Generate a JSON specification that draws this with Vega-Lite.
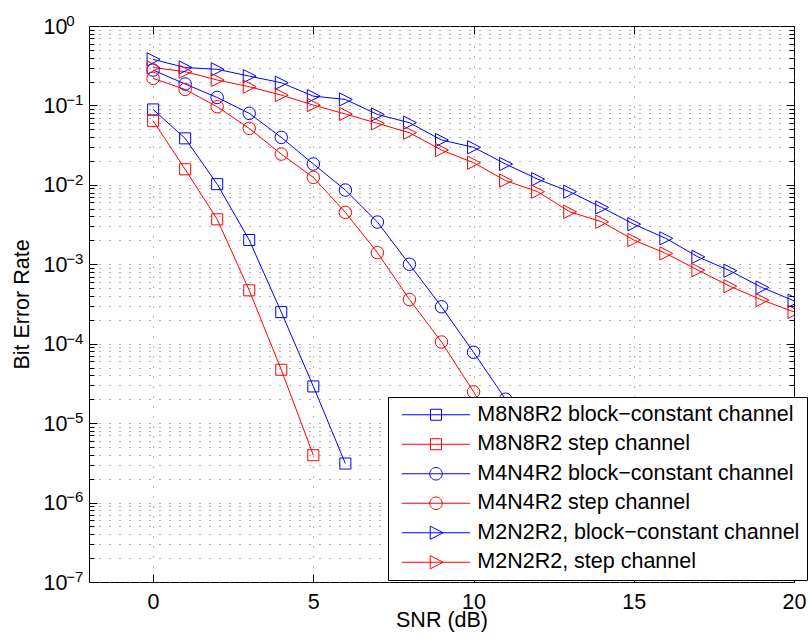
{
  "$schema": "https://vega.github.io/schema/vega-lite/v6.json",
  "width": 705,
  "height": 556,
  "autosize": {"type": "none"},
  "padding": {"left": 89, "top": 26, "right": 15, "bottom": 57},
  "background": "white",
  "config": {
    "font": "Liberation Sans",
    "view": {"stroke": "black", "strokeWidth": 1},
    "axis": {
      "labelFont": "Liberation Sans",
      "titleFont": "Liberation Sans",
      "labelColor": "black",
      "titleColor": "black",
      "tickColor": "black",
      "domain": false,
      "titleFontWeight": "normal",
      "labelOverlap": false,
      "labelFlush": false,
      "labelBound": false
    }
  },
  "data": {
    "values": [
      {"series": "M8N8R2 block−constant channel", "snr": 0, "ber": 0.089},
      {"series": "M8N8R2 block−constant channel", "snr": 1, "ber": 0.0385},
      {"series": "M8N8R2 block−constant channel", "snr": 2, "ber": 0.0102},
      {"series": "M8N8R2 block−constant channel", "snr": 3, "ber": 0.00202},
      {"series": "M8N8R2 block−constant channel", "snr": 4, "ber": 0.00025},
      {"series": "M8N8R2 block−constant channel", "snr": 5, "ber": 2.9e-5},
      {"series": "M8N8R2 block−constant channel", "snr": 6, "ber": 3.1e-6},
      {"series": "M8N8R2 step channel", "snr": 0, "ber": 0.064},
      {"series": "M8N8R2 step channel", "snr": 1, "ber": 0.0157},
      {"series": "M8N8R2 step channel", "snr": 2, "ber": 0.00368},
      {"series": "M8N8R2 step channel", "snr": 3, "ber": 0.00047},
      {"series": "M8N8R2 step channel", "snr": 4, "ber": 4.7e-5},
      {"series": "M8N8R2 step channel", "snr": 5, "ber": 3.95e-6},
      {"series": "M4N4R2 block−constant channel", "snr": 0, "ber": 0.279},
      {"series": "M4N4R2 block−constant channel", "snr": 1, "ber": 0.186},
      {"series": "M4N4R2 block−constant channel", "snr": 2, "ber": 0.126},
      {"series": "M4N4R2 block−constant channel", "snr": 3, "ber": 0.0795},
      {"series": "M4N4R2 block−constant channel", "snr": 4, "ber": 0.0396},
      {"series": "M4N4R2 block−constant channel", "snr": 5, "ber": 0.0183},
      {"series": "M4N4R2 block−constant channel", "snr": 6, "ber": 0.0086},
      {"series": "M4N4R2 block−constant channel", "snr": 7, "ber": 0.0034},
      {"series": "M4N4R2 block−constant channel", "snr": 8, "ber": 0.001},
      {"series": "M4N4R2 block−constant channel", "snr": 9, "ber": 0.000292},
      {"series": "M4N4R2 block−constant channel", "snr": 10, "ber": 7.8e-5},
      {"series": "M4N4R2 block−constant channel", "snr": 11, "ber": 2.0e-5},
      {"series": "M4N4R2 block−constant channel", "snr": 12, "ber": 4.8e-6},
      {"series": "M4N4R2 step channel", "snr": 0, "ber": 0.219},
      {"series": "M4N4R2 step channel", "snr": 1, "ber": 0.159},
      {"series": "M4N4R2 step channel", "snr": 2, "ber": 0.0964},
      {"series": "M4N4R2 step channel", "snr": 3, "ber": 0.0514},
      {"series": "M4N4R2 step channel", "snr": 4, "ber": 0.0244},
      {"series": "M4N4R2 step channel", "snr": 5, "ber": 0.0124},
      {"series": "M4N4R2 step channel", "snr": 6, "ber": 0.0045},
      {"series": "M4N4R2 step channel", "snr": 7, "ber": 0.0014},
      {"series": "M4N4R2 step channel", "snr": 8, "ber": 0.00036},
      {"series": "M4N4R2 step channel", "snr": 9, "ber": 0.000105},
      {"series": "M4N4R2 step channel", "snr": 10, "ber": 2.48e-5},
      {"series": "M4N4R2 step channel", "snr": 11, "ber": 5.5e-6},
      {"series": "M2N2R2, block−constant channel", "snr": 0, "ber": 0.38},
      {"series": "M2N2R2, block−constant channel", "snr": 1, "ber": 0.30},
      {"series": "M2N2R2, block−constant channel", "snr": 2, "ber": 0.285},
      {"series": "M2N2R2, block−constant channel", "snr": 3, "ber": 0.234},
      {"series": "M2N2R2, block−constant channel", "snr": 4, "ber": 0.193},
      {"series": "M2N2R2, block−constant channel", "snr": 5, "ber": 0.131},
      {"series": "M2N2R2, block−constant channel", "snr": 6, "ber": 0.119},
      {"series": "M2N2R2, block−constant channel", "snr": 7, "ber": 0.077},
      {"series": "M2N2R2, block−constant channel", "snr": 8, "ber": 0.0606},
      {"series": "M2N2R2, block−constant channel", "snr": 9, "ber": 0.0367},
      {"series": "M2N2R2, block−constant channel", "snr": 10, "ber": 0.0297},
      {"series": "M2N2R2, block−constant channel", "snr": 11, "ber": 0.0183},
      {"series": "M2N2R2, block−constant channel", "snr": 12, "ber": 0.0118},
      {"series": "M2N2R2, block−constant channel", "snr": 13, "ber": 0.0082},
      {"series": "M2N2R2, block−constant channel", "snr": 14, "ber": 0.0052},
      {"series": "M2N2R2, block−constant channel", "snr": 15, "ber": 0.0032},
      {"series": "M2N2R2, block−constant channel", "snr": 16, "ber": 0.00212},
      {"series": "M2N2R2, block−constant channel", "snr": 17, "ber": 0.00124},
      {"series": "M2N2R2, block−constant channel", "snr": 18, "ber": 0.00083},
      {"series": "M2N2R2, block−constant channel", "snr": 19, "ber": 0.00051},
      {"series": "M2N2R2, block−constant channel", "snr": 20, "ber": 0.000347},
      {"series": "M2N2R2, step channel", "snr": 0, "ber": 0.30},
      {"series": "M2N2R2, step channel", "snr": 1, "ber": 0.266},
      {"series": "M2N2R2, step channel", "snr": 2, "ber": 0.209},
      {"series": "M2N2R2, step channel", "snr": 3, "ber": 0.172},
      {"series": "M2N2R2, step channel", "snr": 4, "ber": 0.135},
      {"series": "M2N2R2, step channel", "snr": 5, "ber": 0.101},
      {"series": "M2N2R2, step channel", "snr": 6, "ber": 0.078},
      {"series": "M2N2R2, step channel", "snr": 7, "ber": 0.0595},
      {"series": "M2N2R2, step channel", "snr": 8, "ber": 0.0453},
      {"series": "M2N2R2, step channel", "snr": 9, "ber": 0.0274},
      {"series": "M2N2R2, step channel", "snr": 10, "ber": 0.019},
      {"series": "M2N2R2, step channel", "snr": 11, "ber": 0.0113},
      {"series": "M2N2R2, step channel", "snr": 12, "ber": 0.0082},
      {"series": "M2N2R2, step channel", "snr": 13, "ber": 0.00458},
      {"series": "M2N2R2, step channel", "snr": 14, "ber": 0.00343},
      {"series": "M2N2R2, step channel", "snr": 15, "ber": 0.00202},
      {"series": "M2N2R2, step channel", "snr": 16, "ber": 0.00137},
      {"series": "M2N2R2, step channel", "snr": 17, "ber": 0.000845},
      {"series": "M2N2R2, step channel", "snr": 18, "ber": 0.00053},
      {"series": "M2N2R2, step channel", "snr": 19, "ber": 0.000354},
      {"series": "M2N2R2, step channel", "snr": 20, "ber": 0.000252}
    ]
  },
  "resolve": {"axis": {"x": "independent", "y": "independent"}},
  "layer": [
    {
      "mark": {"type": "line", "strokeWidth": 1, "clip": true},
      "encoding": {
        "x": {
          "field": "snr", "type": "quantitative",
          "scale": {"domain": [-2, 20], "nice": false, "zero": false},
          "axis": {
            "orient": "bottom", "values": [0, 5, 10, 15, 20], "ticks": false,
            "grid": true, "gridDash": [1, 9], "gridColor": "#666", "gridWidth": 1,
            "labelFontSize": 21.5, "labelPadding": 9,
            "title": "SNR (dB)", "titleFontSize": 21.5,
            "titleX": 352.5, "titleY": 44, "titleBaseline": "alphabetic", "titleAlign": "center"
          }
        },
        "y": {
          "field": "ber", "type": "quantitative",
          "scale": {"type": "log", "domain": [1e-7, 1], "nice": false},
          "axis": {
            "orient": "left",
            "values": [1e-7,2e-7,3e-7,4e-7,5e-7,6e-7,7e-7,8e-7,9e-7,1e-6,2e-6,3e-6,4e-6,5e-6,6e-6,7e-6,8e-6,9e-6,1e-5,2e-5,3e-5,4e-5,5e-5,6e-5,7e-5,8e-5,9e-5,1e-4,2e-4,3e-4,4e-4,5e-4,6e-4,7e-4,8e-4,9e-4,0.001,0.002,0.003,0.004,0.005,0.006,0.007,0.008,0.009,0.01,0.02,0.03,0.04,0.05,0.06,0.07,0.08,0.09,0.1,0.2,0.3,0.4,0.5,0.6,0.7,0.8,0.9,1],
            "ticks": false,
            "grid": true, "gridDash": [1, 9], "gridColor": "#666", "gridWidth": 1,
            "labelExpr": "abs(log(datum.value)/LN10 - round(log(datum.value)/LN10)) < 0.001 ? '10' : ''",
            "labelAlign": "left", "labelBaseline": "middle", "labelPadding": 46, "labelOffset": 1,
            "labelFontSize": 21.5,
            "title": "Bit Error Rate", "titleFontSize": 21.5, "titleAngle": -90,
            "titleX": -60.7, "titleY": 278, "titleBaseline": "alphabetic", "titleAlign": "center"
          }
        },
        "color": {
          "field": "series", "type": "nominal",
          "scale": {
            "domain": ["M8N8R2 block−constant channel", "M8N8R2 step channel", "M4N4R2 block−constant channel", "M4N4R2 step channel", "M2N2R2, block−constant channel", "M2N2R2, step channel"],
            "range": ["#0000ff", "#ff0000", "#0000ff", "#ff0000", "#0000ff", "#ff0000"]
          },
          "legend": {
            "orient": "none", "legendX": 299, "legendY": 371, "title": null,
            "fillColor": "white", "strokeColor": "black", "padding": 7, "rowPadding": 6.5,
            "labelFont": "Liberation Sans", "labelFontSize": 21.5, "labelColor": "black",
            "labelLimit": 500, "labelOffset": 30.55, "symbolOffset": 30.25,
            "symbolSize": 121, "symbolStrokeWidth": 1, "symbolOpacity": 1,
            "zindex": 2,
            "encode": {
              "symbols": {
                "enter": {
                  "shape": {"signal": "indexof(datum.label,'M8')==0 ? 'M-6.2,0H6.2M-1,-1H1V1H-1Z' : indexof(datum.label,'M4')==0 ? 'M-6.2,0H6.2M1.14,0A1.14,1.14,0,1,1,-1.14,0A1.14,1.14,0,1,1,1.14,0Z' : 'M-6.2,0H6.2M-1.05,-1.2L1.3,0L-1.05,1.2Z'"}
                },
                "update": {
                  "fill": {"value": "transparent"},
                  "shape": {"signal": "indexof(datum.label,'M8')==0 ? 'M-6.2,0H6.2M-1,-1H1V1H-1Z' : indexof(datum.label,'M4')==0 ? 'M-6.2,0H6.2M1.14,0A1.14,1.14,0,1,1,-1.14,0A1.14,1.14,0,1,1,1.14,0Z' : 'M-6.2,0H6.2M-1.05,-1.2L1.3,0L-1.05,1.2Z'"}
                }
              }
            }
          }
        }
      }
    },
    {
      "transform": [{"filter": "indexof(datum.series, 'M8') == 0"}],
      "mark": {"type": "point", "filled": false, "strokeWidth": 1, "size": 144, "opacity": 1, "clip": true, "shape": "M-0.92,-0.92H0.92V0.92H-0.92Z"},
      "encoding": {
        "x": {
          "field": "snr", "type": "quantitative",
          "scale": {"domain": [-2, 20], "nice": false, "zero": false},
          "axis": {"orient": "top", "values": [0, 5, 10, 15, 20], "labels": false, "grid": false, "ticks": true, "tickSize": -8, "title": null, "zindex": 1}
        },
        "y": {
          "field": "ber", "type": "quantitative",
          "scale": {"type": "log", "domain": [1e-7, 1], "nice": false},
          "axis": {
            "orient": "right",
            "values": [1e-7,2e-7,3e-7,4e-7,5e-7,6e-7,7e-7,8e-7,9e-7,1e-6,2e-6,3e-6,4e-6,5e-6,6e-6,7e-6,8e-6,9e-6,1e-5,2e-5,3e-5,4e-5,5e-5,6e-5,7e-5,8e-5,9e-5,1e-4,2e-4,3e-4,4e-4,5e-4,6e-4,7e-4,8e-4,9e-4,0.001,0.002,0.003,0.004,0.005,0.006,0.007,0.008,0.009,0.01,0.02,0.03,0.04,0.05,0.06,0.07,0.08,0.09,0.1,0.2,0.3,0.4,0.5,0.6,0.7,0.8,0.9,1],
            "labels": false, "grid": false, "ticks": true, "title": null, "zindex": 1,
            "tickSize": {"condition": {"test": "abs(log(datum.value)/LN10 - round(log(datum.value)/LN10)) < 0.001", "value": -8}, "value": -5}
          }
        },
        "color": {"field": "series", "type": "nominal"}
      }
    },
    {
      "transform": [{"filter": "indexof(datum.series, 'M4') == 0"}],
      "mark": {"type": "point", "filled": false, "strokeWidth": 1, "size": 156, "opacity": 1, "clip": true, "shape": "circle"},
      "encoding": {
        "x": {"field": "snr", "type": "quantitative", "scale": {"domain": [-2, 20], "nice": false, "zero": false}, "axis": null},
        "y": {"field": "ber", "type": "quantitative", "scale": {"type": "log", "domain": [1e-7, 1], "nice": false}, "axis": null},
        "color": {"field": "series", "type": "nominal"}
      }
    },
    {
      "transform": [{"filter": "indexof(datum.series, 'M2') == 0"}],
      "mark": {"type": "point", "filled": false, "strokeWidth": 1, "size": 144, "opacity": 1, "clip": true, "shape": "M-1,-1.1L1.15,0L-1,1.1Z"},
      "encoding": {
        "x": {"field": "snr", "type": "quantitative", "scale": {"domain": [-2, 20], "nice": false, "zero": false}, "axis": null},
        "y": {"field": "ber", "type": "quantitative", "scale": {"type": "log", "domain": [1e-7, 1], "nice": false}, "axis": null},
        "color": {"field": "series", "type": "nominal"}
      }
    },
    {
      "mark": {"type": "point", "opacity": 0},
      "encoding": {
        "x": {
          "field": "snr", "type": "quantitative",
          "scale": {"domain": [-2, 20], "nice": false, "zero": false},
          "axis": {"orient": "bottom", "values": [0, 5, 10, 15, 20], "labels": false, "grid": false, "ticks": true, "tickSize": -8, "title": null, "zindex": 1}
        },
        "y": {
          "field": "ber", "type": "quantitative",
          "scale": {"type": "log", "domain": [1e-7, 1], "nice": false},
          "axis": {
            "orient": "left",
            "values": [1e-7,2e-7,3e-7,4e-7,5e-7,6e-7,7e-7,8e-7,9e-7,1e-6,2e-6,3e-6,4e-6,5e-6,6e-6,7e-6,8e-6,9e-6,1e-5,2e-5,3e-5,4e-5,5e-5,6e-5,7e-5,8e-5,9e-5,1e-4,2e-4,3e-4,4e-4,5e-4,6e-4,7e-4,8e-4,9e-4,0.001,0.002,0.003,0.004,0.005,0.006,0.007,0.008,0.009,0.01,0.02,0.03,0.04,0.05,0.06,0.07,0.08,0.09,0.1,0.2,0.3,0.4,0.5,0.6,0.7,0.8,0.9,1],
            "labels": false, "grid": false, "ticks": true, "title": null, "zindex": 1,
            "tickSize": {"condition": {"test": "abs(log(datum.value)/LN10 - round(log(datum.value)/LN10)) < 0.001", "value": -8}, "value": -5}
          }
        }
      }
    },
    {
      "mark": {"type": "point", "opacity": 0},
      "encoding": {
        "x": {"field": "snr", "type": "quantitative", "scale": {"domain": [-2, 20], "nice": false, "zero": false}, "axis": null},
        "y": {
          "field": "ber", "type": "quantitative",
          "scale": {"type": "log", "domain": [1e-7, 1], "nice": false},
          "axis": {
            "orient": "left",
            "values": [1e-7, 1e-6, 1e-5, 1e-4, 0.001, 0.01, 0.1, 1],
            "labels": true, "grid": false, "ticks": false, "title": null,
            "labelExpr": "['0','−1','−2','−3','−4','−5','−6','−7'][-round(log(datum.value)/LN10)]",
            "labelAlign": "left", "labelBaseline": "middle", "labelPadding": 23.3, "labelOffset": -5.7,
            "labelFontSize": 15
          }
        }
      }
    }
  ]
}
